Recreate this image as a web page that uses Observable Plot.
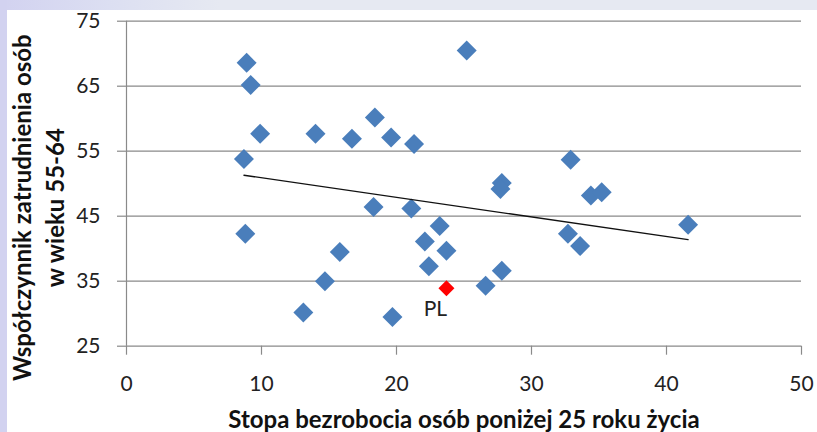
<!DOCTYPE html>
<html><head><meta charset="utf-8">
<script src="https://cdn.jsdelivr.net/npm/d3@7"></script>
<script src="https://cdn.jsdelivr.net/npm/@observablehq/plot@0.6"></script>
<style>
html,body{margin:0;padding:0;background:#fff;width:817px;height:432px;overflow:hidden}
#top{position:absolute;left:0;top:0;width:817px;height:10px;background:linear-gradient(to right,#d2d2f0 0px,#dcdff2 110px,#e6e9f2 220px)}
#left{position:absolute;left:0;top:0;width:7px;height:432px;background:#d2d2f0}
#chart{position:absolute;left:0;top:0}
</style></head><body>
<div id="top"></div><div id="left"></div><div id="chart"></div>
<script>
// Stopa bezrobocia osób poniżej 25 roku życia (x) vs współczynnik zatrudnienia 55-64 (y)
const unemployment = [8.9, 9.2, 9.9, 8.7, 14.0, 16.7, 18.4, 19.6, 21.3, 25.2,
  8.8, 18.3, 21.1, 27.8, 27.7, 23.2, 22.1, 23.7, 15.8, 22.4,
  27.8, 14.7, 26.6, 13.1, 19.7, 32.9, 34.4, 35.2, 32.7, 33.6, 41.6];
const employment = [68.6, 65.2, 57.7, 53.8, 57.7, 56.9, 60.2, 57.1, 56.1, 70.5,
  42.3, 46.4, 46.2, 50.1, 49.2, 43.5, 41.1, 39.7, 39.5, 37.3,
  36.6, 35.0, 34.3, 30.2, 29.5, 53.7, 48.2, 48.7, 42.3, 40.4, 43.7];
const plX = [23.7];
const plY = [33.9];
const plLabel = ["PL"];
const trendX = [8.7, 41.6];
const trendY = [51.3, 41.4];
const xTicks = [0, 10, 20, 30, 40, 50];
const yTicks = [25, 35, 45, 55, 65, 75];
const xTitle = "Stopa bezrobocia osób poniżej 25 roku życia";
const yTitle = "Współczynnik zatrudnienia osób\nw wieku 55-64";

const points = unemployment.map((x, i) => ({x, y: employment[i]}));
const pl = plX.map((x, i) => ({x, y: plY[i], label: plLabel[i]}));
const trend = trendX.map((x, i) => ({x, y: trendY[i]}));

const gridColor = "#8a8a8a";
const chart = Plot.plot({
  width: 817, height: 432,
  marginLeft: 126, marginRight: 16, marginTop: 20.7, marginBottom: 86.3,
  style: {background: "transparent", fontFamily: "Lato, sans-serif", fontSize: "20px", color: "#222"},
  x: {domain: [0, 50]},
  y: {domain: [25, 75]},
  marks: [
    Plot.ruleY(yTicks, {stroke: gridColor, strokeWidth: 1.2}),
    Plot.ruleX([0], {stroke: gridColor, strokeWidth: 1.2}),
    Plot.axisY(yTicks, {tickSize: 9, tickPadding: 17, stroke: gridColor, strokeWidth: 1.2, label: null, fontSize: 21}),
    Plot.axisX(xTicks, {tickSize: 9, tickPadding: 21, stroke: gridColor, strokeWidth: 1.2, label: null, fontSize: 21}),
    Plot.dot(points, {x: "x", y: "y", symbol: "diamond2", r: 9, fill: "#4a7ebb", stroke: "none"}),
    Plot.dot(pl, {x: "x", y: "y", symbol: "diamond2", r: 7.2, fill: "#ff0000", stroke: "none"}),
    Plot.line(trend, {x: "x", y: "y", stroke: "#111", strokeWidth: 1.3}),
    Plot.text(pl, {x: "x", y: "y", text: "label", dx: -11, dy: 20.5, fontSize: 21, fill: "#222"}),
    Plot.text([xTitle], {frameAnchor: "bottom", textAnchor: "middle", lineAnchor: "middle", dy: 74.6, fontWeight: "bold", fontSize: 24, fill: "#111"}),
    Plot.text([yTitle], {frameAnchor: "left", textAnchor: "middle", lineAnchor: "middle", dx: -89.5, dy: 24, rotate: -90, fontWeight: "bold", fontSize: 24, lineHeight: 1.375, fill: "#111"})
  ]
});
document.getElementById("chart").appendChild(chart);
</script>
</body></html>
